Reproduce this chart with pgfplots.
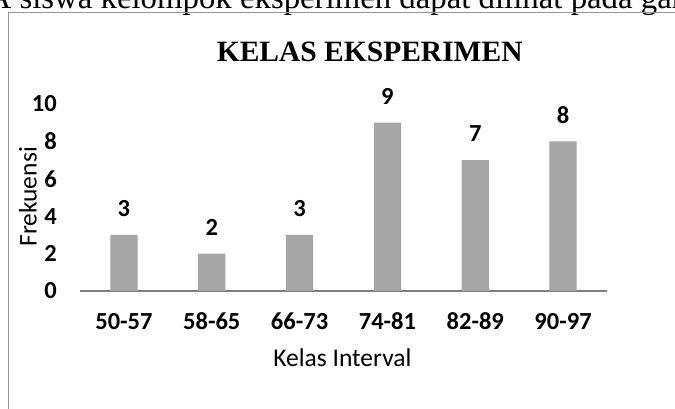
\documentclass[border=0pt]{standalone}
\usepackage{fontspec}
\setmainfont{Liberation Serif}
\newfontfamily\calibri{Carlito}
\usepackage{pgfplots}
\pgfplotsset{compat=1.18}
\definecolor{bargray}{RGB}{166,166,166}
\definecolor{axgray}{RGB}{128,128,128}
\definecolor{framegray}{RGB}{150,150,150}
\begin{document}
\begin{tikzpicture}[x=1pt,y=1pt]
\useasboundingbox (0,0) rectangle (675,409);
\begin{scope}
\clip (0,0) rectangle (675,409);
\node[anchor=base west, inner sep=0pt, font=\fontsize{32.8}{36}\selectfont] at (-12.5,400.7) {A siswa kelompok eksperimen dapat dilihat pada gambar};
\draw[framegray, line width=1.5pt] (8.3,-5) -- (8.3,396.3) -- (690,396.3);
\end{scope}
\node[anchor=base, inner sep=0pt, font=\bfseries\fontsize{29.5}{32}\selectfont] at (369.7,347.3) {KELAS EKSPERIMEN};
\begin{axis}[
 at={(80pt,118pt)}, anchor=south west, scale only axis, width=527pt, height=187pt,
 xmin=-0.5, xmax=5.5, ymin=0, ymax=10,
 ybar, bar width=27.3pt,
 axis x line*=bottom, axis y line*=left,
 y axis line style={draw=none},
 x axis line style={draw=axgray, line width=1.3pt},
 major tick length=0pt,
 xtick=data, xticklabels={50-57,58-65,66-73,74-81,82-89,90-97},
 ytick={0,2,...,10},
 /pgf/number format/assume math mode=true,
 ticklabel style={font=\calibri\bfseries\fontsize{24.5}{25}\selectfont, inner sep=0pt},
 xticklabel style={anchor=base, yshift=-38.3pt},
 yticklabel style={anchor=east, xshift=-23pt},
 nodes near coords,
 nodes near coords style={font=\calibri\bfseries\fontsize{24.5}{25}\selectfont, anchor=south, inner sep=0pt, yshift=18pt, /pgf/number format/assume math mode=true},
 xlabel={Kelas Interval},
 ylabel={Frekuensi},
 xlabel style={font=\calibri\fontsize{25.5}{26}\selectfont, at={(axis description cs:0.498,-0.405)}, anchor=base, inner sep=0pt},
 ylabel style={font=\calibri\fontsize{25.5}{26}\selectfont, at={(axis description cs:-0.0822,0.503)}, anchor=base, inner sep=0pt},
 clip=false,
]
\addplot[fill=bargray, draw=none] coordinates {(0,3) (1,2) (2,3) (3,9) (4,7) (5,8)};
\end{axis}
\end{tikzpicture}
\end{document}
